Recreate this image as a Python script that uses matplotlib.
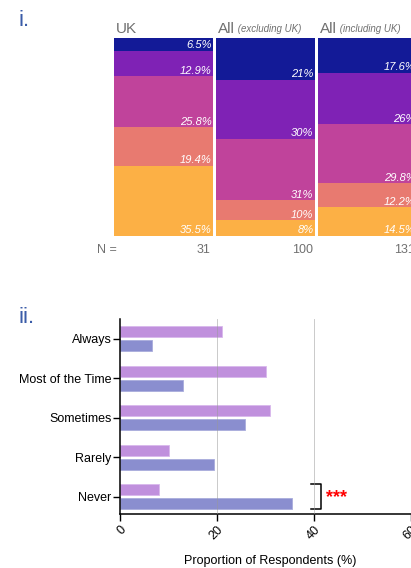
import matplotlib.pyplot as plt
import numpy as np

plt.rcParams['font.family'] = ['Liberation Sans', 'DejaVu Sans']

# categorias (de arriba hacia abajo)
categorias = ['Always', 'Most of the Time', 'Sometimes', 'Rarely', 'Never']
grupos = ['UK', 'All', 'All']
subtitulos = ['', '(excluding UK)', '(including UK)']
n_resp = ['31', '100', '131']

uk = [6.5, 12.9, 25.8, 19.4, 35.5]
sin_uk = [21, 30, 31, 10, 8]
con_uk = [17.6, 26, 29.8, 12.2, 14.5]
etiquetas = [['6.5%', '12.9%', '25.8%', '19.4%', '35.5%'],
             ['21%', '30%', '31%', '10%', '8%'],
             ['17.6%', '26%', '29.8%', '12.2%', '14.5%']]

colores = ['#131a97', '#7f22b5', '#c0439b', '#e87a70', '#fcb045']

W, H = 411, 568
fig = plt.figure(figsize=(W/100, H/100), dpi=100)

def caja(x0, y0, x1, y1):
    # pixeles -> coordenadas de figura
    return [x0/W, 1-y1/H, (x1-x0)/W, (y1-y0)/H]

# ---------------- panel i ----------------
ax1 = fig.add_axes(caja(114, 38, 420, 236))
datos = [uk, sin_uk, con_uk]
for i, col in enumerate(datos):
    total = sum(col)
    base = total
    for j, v in enumerate(col):
        base = base - v
        ax1.bar(i, v, bottom=base, width=0.97, align='edge', color=colores[j], linewidth=0)
        ax1.text(i+0.955, base+0.3, etiquetas[i][j], ha='right', va='bottom',
                 color='white', fontsize=8, style='italic')
    ax1.text(i+0.95, -3.8, n_resp[i], ha='right', va='top', color='#707070', fontsize=9)
    t = ax1.text(i+0.02, 101.3, grupos[i], ha='left', va='bottom', color='#707070', fontsize=11)
    if subtitulos[i]:
        ax1.annotate(' ' + subtitulos[i], xy=(1, 0), xycoords=t, xytext=(0, 1),
                     textcoords='offset points', ha='left', va='bottom',
                     color='#707070', fontsize=7, style='italic')
ax1.text(0.03, -3.8, 'N =', ha='right', va='top', color='#707070', fontsize=9)
ax1.set_xlim(0, 3)
ax1.set_ylim(0, 100.1)
ax1.axis('off')

fig.text(18/W, 1-26/H, 'i.', color='#3b5ca8', fontsize=16)
fig.text(18/W, 1-323/H, 'ii.', color='#3b5ca8', fontsize=16)

# ---------------- panel ii ----------------
ax2 = fig.add_axes(caja(120, 319, 420, 514))
y = np.arange(len(categorias))[::-1]
ax2.barh(y + 0.18, sin_uk, height=0.28, color='#c090dd', edgecolor='#d9b8ec', linewidth=0.6)
ax2.barh(y - 0.17, uk, height=0.28, color='#8a8ecf', edgecolor='#a9acdc', linewidth=0.6)
ax2.set_xlim(0, 300/4.85)
ax2.set_ylim(-0.43, 4.5)
ax2.set_yticks(y)
ax2.set_yticklabels(categorias, fontsize=9)
ax2.set_xticks([0, 20, 40, 60])
ax2.set_xticklabels(['0', '20', '40', '60'], rotation=45, fontsize=9, ha='right', va='top',
                    rotation_mode='anchor')
ax2.tick_params(axis='x', length=5, width=1, pad=2)
ax2.tick_params(axis='y', length=5, width=1, pad=1)
for x in [20, 40]:
    ax2.axvline(x, color='#999999', lw=0.6, alpha=0.6, zorder=3)
ax2.spines['top'].set_visible(False)
ax2.spines['right'].set_visible(False)
ax2.spines['left'].set_linewidth(1.1)
ax2.spines['bottom'].set_linewidth(1.1)
ax2.set_xlabel('Proportion of Respondents (%)', fontsize=9, labelpad=9)

# corchete de significancia
ax2.plot([39.4, 41.4, 41.4, 39.4], [0.33, 0.33, -0.30, -0.30], color='black', lw=1.1)
ax2.text(42.5, -0.02, '***', color='red', fontsize=13, va='center', ha='left', fontweight='bold')

fig.savefig('out.png', dpi=100)
